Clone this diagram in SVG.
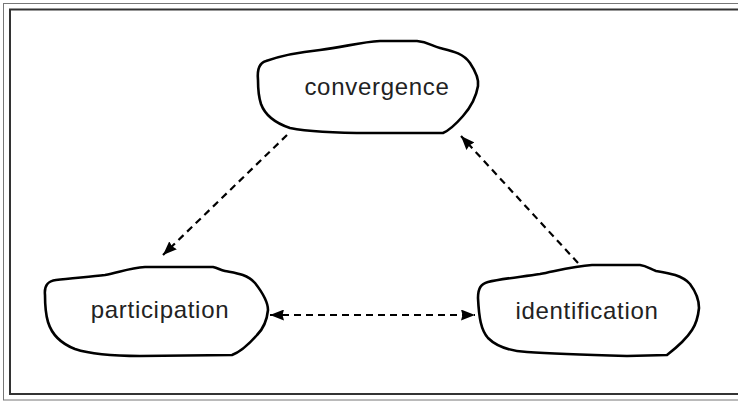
<svg xmlns="http://www.w3.org/2000/svg" width="738" height="401" viewBox="0 0 738 401">
  <style>
    .frame-outer { fill: none; stroke: #777; stroke-width: 1; }
    .frame-inner { fill: none; stroke: #333; stroke-width: 2; }
    .blob { fill: #fff; stroke: #000; stroke-width: 2.6; stroke-linejoin: round; }
    .label { font-family: "Liberation Sans", Arial, sans-serif; font-size: 24px; letter-spacing: 0.7px; fill: #222; text-anchor: middle; }
    .edge { fill: none; stroke: #000; stroke-width: 2.2; stroke-dasharray: 7 5; }
  </style>
  <defs>
    <marker id="arrow" viewBox="0 0 14 11" refX="14" refY="5.5" markerWidth="14" markerHeight="11" markerUnits="userSpaceOnUse" orient="auto-start-reverse">
      <path d="M0,0 L14,5.5 L0,11 L1.5,5.5 Z" fill="#000"/>
    </marker>
  </defs>

  <!-- double frame -->
  <rect class="frame-outer" x="3.5" y="3.5" width="740" height="396.5"/>
  <rect class="frame-inner" x="10" y="9.5" width="740" height="384.5"/>

  <!-- connectors -->
  <g id="edges">
    <line class="edge" x1="287" y1="135" x2="163" y2="255" marker-end="url(#arrow)"/>
    <line class="edge" x1="578" y1="263" x2="461" y2="136" marker-end="url(#arrow)"/>
    <line class="edge" x1="270" y1="315" x2="475" y2="315" marker-start="url(#arrow)" marker-end="url(#arrow)"/>
  </g>

  <g id="convergence">
    <path class="blob" d="M258,80 C257,70 259,63 266,61 C280,56 300,52 320,50 C345,47 360,42 380,41 L417,41 C428,42 432,46 440,48 C452,51 463,53 470,63 C476,72 479,80 478,86 C476,98 470,108 463,116 C456,124 450,130 443,133 L370,133 C340,133 310,132 290,128 C275,123 265,115 261,104 C258,95 258,88 258,80 Z"/>
    <text class="label" x="377" y="95">convergence</text>
  </g>

  <g id="participation">
    <path class="blob" d="M45,295 C44,285 48,281 56,280 C70,278 90,277 105,275 C120,272 130,268 145,267 L213,267 C218,268 220,270 225,271 C235,273 247,274 255,283 C262,292 268,302 268,310 C267,320 264,328 257,335 C250,343 240,352 232,355 L140,356 C110,356 90,354 75,349 C62,344 52,335 48,322 C45,312 45,302 45,295 Z"/>
    <text class="label" x="160" y="318">participation</text>
  </g>

  <g id="identification">
    <path class="blob" d="M478,298 C478,288 481,284 488,282 C500,279 520,277 540,274 C560,270 575,266 592,265 L640,265 C647,266 650,269 656,271 C668,273 682,275 690,284 C696,292 699,300 699,308 C698,318 696,324 692,330 C687,338 676,348 667,355 L627,356 C590,355 555,354 527,352 C510,351 497,347 488,338 C481,330 479,318 478,298 Z"/>
    <text class="label" x="587" y="319">identification</text>
  </g>
</svg>
